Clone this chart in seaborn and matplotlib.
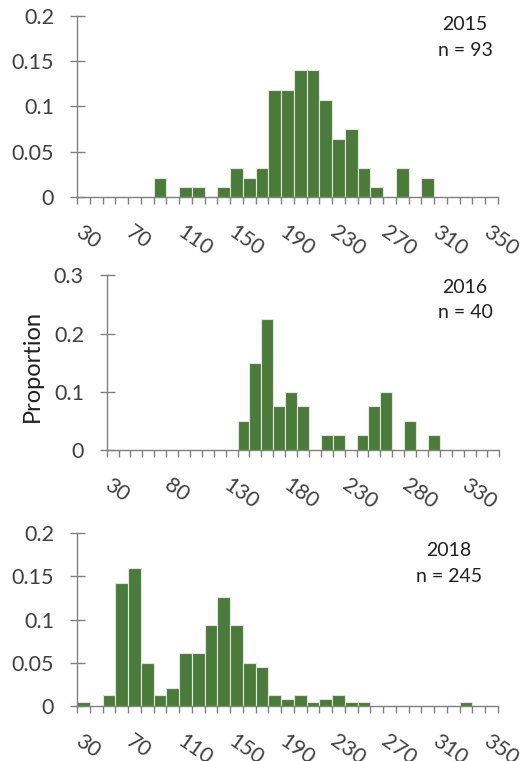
import numpy as np
import pandas as pd
import seaborn as sns
import matplotlib.pyplot as plt

sns.set_theme(style="white")
plt.rcParams['font.family'] = ['Lato', 'DejaVu Sans']

# bin categories (mm), 10-unit bins
categories = [str(v) for v in range(30, 360, 10)]

prop_2015 = [0, 0, 0, 0, 0, 0, 0.0215, 0, 0.0108, 0.0108, 0, 0.0108, 0.0323,
             0.0215, 0.0323, 0.1183, 0.1183, 0.1398, 0.1398, 0.1075, 0.0645,
             0.0753, 0.0323, 0.0108, 0, 0.0323, 0, 0.0215, 0, 0, 0, 0, 0]
prop_2016 = [0, 0, 0, 0, 0, 0, 0, 0, 0, 0, 0, 0.05, 0.15, 0.225, 0.075, 0.1,
             0.075, 0, 0.025, 0.025, 0, 0.025, 0.075, 0.1, 0, 0.05, 0, 0.025,
             0, 0, 0, 0, 0]
prop_2018 = [0.0041, 0, 0.0122, 0.1429, 0.1592, 0.0490, 0.0122, 0.0204, 0.0612,
             0.0612, 0.0939, 0.1265, 0.0939, 0.0490, 0.0449, 0.0122, 0.0082,
             0.0122, 0.0041, 0.0082, 0.0122, 0.0041, 0.0041, 0, 0, 0, 0, 0, 0,
             0, 0.0041, 0, 0]

years = ["2015", "2016", "2018"]
ns = [93, 40, 245]
ymax = [0.2, 0.3, 0.2]
yticks = [[0, 0.05, 0.1, 0.15, 0.2], [0, 0.1, 0.2, 0.3], [0, 0.05, 0.1, 0.15, 0.2]]
yticklabels = [["0", "0.05", "0.1", "0.15", "0.2"], ["0", "0.1", "0.2", "0.3"],
               ["0", "0.05", "0.1", "0.15", "0.2"]]
label_step = [4, 5, 4]

bar_color = "#4b7b3b"
text_color = "#404040"
axis_color = "#808080"

W, H = 530, 761
fig = plt.figure(figsize=(W / 100, H / 100), dpi=100)

# axes rects in pixels: left, right, top(ymax), bottom(0)
rects_px = [(77, 498, 15.7, 197), (106.7, 499.3, 275.3, 450), (77, 498, 533.3, 705.7)]
# annotation positions (px): x center, y of year, y of n line
ann_px = [(465, 25, 50), (465, 287, 313), (449, 550, 577)]

data_all = [prop_2015, prop_2016, prop_2018]

for k in range(3):
    l, r, t, b = rects_px[k]
    ax = fig.add_axes([l / W, 1 - b / H, (r - l) / W, (b - t) / H])
    df = pd.DataFrame({"bin": categories, "prop": data_all[k]})
    sns.barplot(data=df, x="bin", y="prop", order=categories, color=bar_color,
                saturation=1, width=1.0, edgecolor="#dfe8da", linewidth=0.8, ax=ax)
    ax.set_xlim(-0.5, len(categories) - 0.5)
    ax.set_ylim(0, ymax[k])
    ax.set_xlabel("")
    ax.set_ylabel("")
    for s in ["top", "right"]:
        ax.spines[s].set_visible(False)
    for s in ["left", "bottom"]:
        ax.spines[s].set_color(axis_color)
        ax.spines[s].set_linewidth(1)
    step = label_step[k]
    major = list(range(0, len(categories), step))
    ax.set_xticks(major)
    ax.set_xticklabels([categories[i] for i in major], rotation=-35, ha="left",
                       va="top", rotation_mode="anchor", fontsize=15.5,
                       color=text_color)
    ax.set_xticks(np.arange(-0.5, len(categories), 1), minor=True)
    ax.tick_params(axis="x", which="major", length=0, pad=18)
    ax.tick_params(axis="x", which="minor", length=5, width=1, color=axis_color,
                   direction="out", bottom=True)
    ax.set_yticks(yticks[k])
    ax.set_yticklabels(yticklabels[k], fontsize=15.5, color=text_color)
    ax.tick_params(axis="y", which="major", direction="inout", length=10.8,
                   width=1, color=axis_color, left=True, pad=11)
    x, y1, y2 = ann_px[k]
    fig.text(x / W, 1 - y1 / H, years[k], ha="center", va="center",
             fontsize=14, color="#202020")
    fig.text(x / W, 1 - y2 / H, f"n = {ns[k]}", ha="center", va="center",
             fontsize=14, color="#202020")

fig.text(32 / W, 1 - 366 / H, "Proportion", rotation=90, ha="center",
         va="center", fontsize=17, color="#202020")

fig.savefig("out.png", dpi=100)
